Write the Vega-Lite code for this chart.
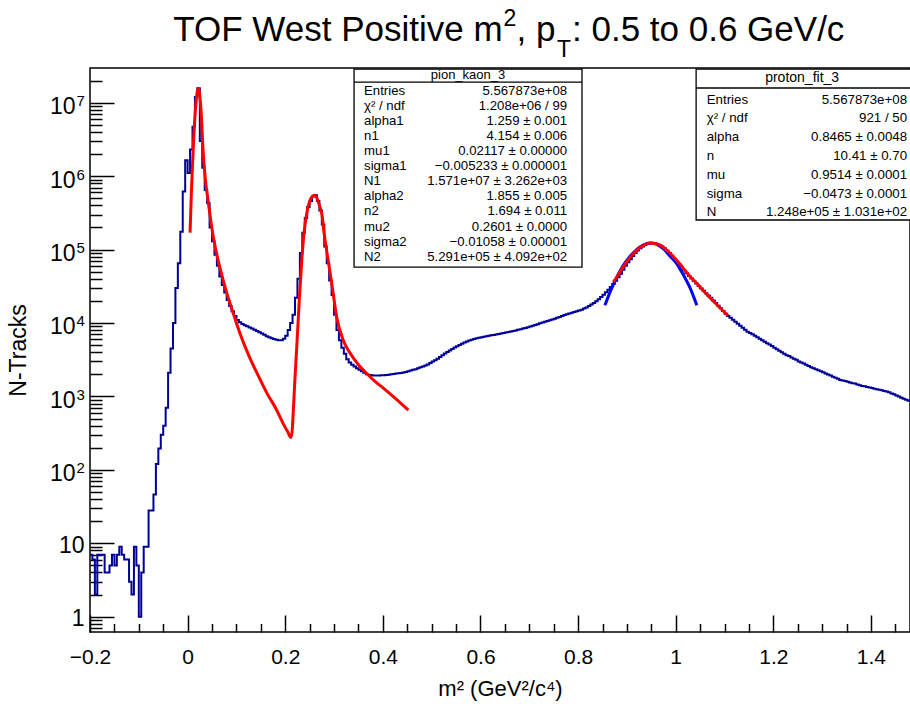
{
  "$schema": "https://vega.github.io/schema/vega-lite/v6.json",
  "width": 820,
  "height": 564,
  "autosize": {"type": "none"},
  "padding": {"left": 90, "top": 68, "right": 0, "bottom": 72},
  "background": "white",
  "config": {
    "font": "Liberation Sans",
    "view": {"stroke": "black", "strokeWidth": 1.5},
    "axis": {"domain": false, "grid": false, "tickColor": "black", "labelColor": "black", "titleColor": "black", "labelFont": "Liberation Sans", "titleFont": "Liberation Sans", "titleFontWeight": "normal"}
  },
  "datasets": {
    "hist": [
      {"x":-0.2,"n":7},{"x":-0.195,"n":6},{"x":-0.19,"n":2},{"x":-0.185,"n":7},{"x":-0.18,"n":7},{"x":-0.175,"n":7},{"x":-0.17,"n":4},{"x":-0.165,"n":4},{"x":-0.16,"n":5},{"x":-0.155,"n":7},
      {"x":-0.15,"n":5},{"x":-0.145,"n":7},{"x":-0.14,"n":9},{"x":-0.135,"n":7},{"x":-0.13,"n":6},{"x":-0.125,"n":6},{"x":-0.12,"n":3},{"x":-0.115,"n":2},{"x":-0.11,"n":9},{"x":-0.105,"n":5},
      {"x":-0.1,"n":1},{"x":-0.095,"n":4},{"x":-0.09,"n":9},{"x":-0.085,"n":9},{"x":-0.08,"n":28},{"x":-0.075,"n":28},{"x":-0.07,"n":46},{"x":-0.065,"n":120},{"x":-0.06,"n":196},{"x":-0.055,"n":300},
      {"x":-0.05,"n":400},{"x":-0.045,"n":700},{"x":-0.04,"n":2100},{"x":-0.035,"n":4500},{"x":-0.03,"n":10000},{"x":-0.025,"n":30000},{"x":-0.02,"n":65000},{"x":-0.015,"n":175000},{"x":-0.01,"n":620000},{"x":-0.005,"n":1650000},
      {"x":0,"n":1100000},{"x":0.005,"n":2300000},{"x":0.01,"n":4700000},{"x":0.015,"n":12000000},{"x":0.02,"n":15700000},{"x":0.025,"n":3000000},{"x":0.03,"n":1300000},{"x":0.035,"n":650000},{"x":0.04,"n":430000},{"x":0.045,"n":200000},
      {"x":0.05,"n":130000},{"x":0.055,"n":85000},{"x":0.06,"n":60000},{"x":0.065,"n":43000},{"x":0.07,"n":33000},{"x":0.075,"n":26000},{"x":0.08,"n":20500},{"x":0.085,"n":17000},{"x":0.09,"n":14500},{"x":0.095,"n":12500},
      {"x":0.1,"n":11000},{"x":0.105,"n":10200},{"x":0.11,"n":9700},{"x":0.115,"n":9300},{"x":0.12,"n":9000},{"x":0.125,"n":8700},{"x":0.13,"n":8400},{"x":0.135,"n":8100},{"x":0.14,"n":7800},{"x":0.145,"n":7500},
      {"x":0.15,"n":7200},{"x":0.155,"n":6900},{"x":0.16,"n":6600},{"x":0.165,"n":6400},{"x":0.17,"n":6200},{"x":0.175,"n":6050},{"x":0.18,"n":5900},{"x":0.185,"n":5800},{"x":0.19,"n":5800},{"x":0.195,"n":6100},
      {"x":0.2,"n":6700},{"x":0.205,"n":8000},{"x":0.21,"n":10000},{"x":0.215,"n":13000},{"x":0.22,"n":22000},{"x":0.225,"n":40000},{"x":0.23,"n":90000},{"x":0.235,"n":170000},{"x":0.24,"n":270000},{"x":0.245,"n":380000},
      {"x":0.25,"n":460000},{"x":0.255,"n":530000},{"x":0.26,"n":550000},{"x":0.265,"n":460000},{"x":0.27,"n":340000},{"x":0.275,"n":220000},{"x":0.28,"n":110000},{"x":0.285,"n":65000},{"x":0.29,"n":38000},{"x":0.295,"n":24000},
      {"x":0.3,"n":13000},{"x":0.305,"n":8000},{"x":0.31,"n":5800},{"x":0.315,"n":4600},{"x":0.32,"n":3800},{"x":0.325,"n":3200},{"x":0.33,"n":2900},{"x":0.335,"n":2700},{"x":0.34,"n":2550},{"x":0.345,"n":2420},
      {"x":0.35,"n":2300},{"x":0.355,"n":2200},{"x":0.36,"n":2100},{"x":0.365,"n":2000},{"x":0.37,"n":1960},{"x":0.375,"n":1940},{"x":0.38,"n":1930},{"x":0.385,"n":1920},{"x":0.39,"n":1930},{"x":0.395,"n":1940},
      {"x":0.4,"n":1950},{"x":0.405,"n":1960},{"x":0.41,"n":1980},{"x":0.415,"n":2000},{"x":0.42,"n":2020},{"x":0.425,"n":2050},{"x":0.43,"n":2070},{"x":0.435,"n":2090},{"x":0.44,"n":2110},{"x":0.445,"n":2150},
      {"x":0.45,"n":2200},{"x":0.455,"n":2250},{"x":0.46,"n":2300},{"x":0.465,"n":2350},{"x":0.47,"n":2420},{"x":0.475,"n":2490},{"x":0.48,"n":2560},{"x":0.485,"n":2640},{"x":0.49,"n":2730},{"x":0.495,"n":2850},
      {"x":0.5,"n":2980},{"x":0.505,"n":3120},{"x":0.51,"n":3270},{"x":0.515,"n":3450},{"x":0.52,"n":3650},{"x":0.525,"n":3850},{"x":0.53,"n":4030},{"x":0.535,"n":4220},{"x":0.54,"n":4420},{"x":0.545,"n":4620},
      {"x":0.55,"n":4820},{"x":0.555,"n":5020},{"x":0.56,"n":5220},{"x":0.565,"n":5420},{"x":0.57,"n":5600},{"x":0.575,"n":5760},{"x":0.58,"n":5910},{"x":0.585,"n":6050},{"x":0.59,"n":6180},{"x":0.595,"n":6290},
      {"x":0.6,"n":6400},{"x":0.605,"n":6500},{"x":0.61,"n":6600},{"x":0.615,"n":6700},{"x":0.62,"n":6790},{"x":0.625,"n":6880},{"x":0.63,"n":6980},{"x":0.635,"n":7080},{"x":0.64,"n":7180},{"x":0.645,"n":7290},
      {"x":0.65,"n":7400},{"x":0.655,"n":7520},{"x":0.66,"n":7650},{"x":0.665,"n":7780},{"x":0.67,"n":7920},{"x":0.675,"n":8070},{"x":0.68,"n":8230},{"x":0.685,"n":8400},{"x":0.69,"n":8580},{"x":0.695,"n":8770},
      {"x":0.7,"n":8970},{"x":0.705,"n":9180},{"x":0.71,"n":9400},{"x":0.715,"n":9650},{"x":0.72,"n":9900},{"x":0.725,"n":10150},{"x":0.73,"n":10400},{"x":0.735,"n":10650},{"x":0.74,"n":10900},{"x":0.745,"n":11150},
      {"x":0.75,"n":11450},{"x":0.755,"n":11750},{"x":0.76,"n":12100},{"x":0.765,"n":12450},{"x":0.77,"n":12800},{"x":0.775,"n":13150},{"x":0.78,"n":13500},{"x":0.785,"n":13800},{"x":0.79,"n":14100},{"x":0.795,"n":14400},
      {"x":0.8,"n":14800},{"x":0.805,"n":15200},{"x":0.81,"n":15700},{"x":0.815,"n":16300},{"x":0.82,"n":17000},{"x":0.825,"n":17800},{"x":0.83,"n":18700},{"x":0.835,"n":19800},{"x":0.84,"n":21100},{"x":0.845,"n":22600},
      {"x":0.85,"n":24300},{"x":0.855,"n":26200},{"x":0.86,"n":28400},{"x":0.865,"n":31000},{"x":0.87,"n":34000},{"x":0.875,"n":37700},{"x":0.88,"n":42000},{"x":0.885,"n":47000},{"x":0.89,"n":53000},{"x":0.895,"n":60000},
      {"x":0.9,"n":67000},{"x":0.905,"n":74000},{"x":0.91,"n":82000},{"x":0.915,"n":90000},{"x":0.92,"n":97000},{"x":0.925,"n":104000},{"x":0.93,"n":110000},{"x":0.935,"n":115000},{"x":0.94,"n":119000},{"x":0.945,"n":122000},
      {"x":0.95,"n":123000},{"x":0.955,"n":122000},{"x":0.96,"n":119000},{"x":0.965,"n":115000},{"x":0.97,"n":110000},{"x":0.975,"n":104000},{"x":0.98,"n":97000},{"x":0.985,"n":90000},{"x":0.99,"n":82500},{"x":0.995,"n":75000},
      {"x":1.0,"n":68000},{"x":1.005,"n":62000},{"x":1.01,"n":57000},{"x":1.015,"n":52000},{"x":1.02,"n":47500},{"x":1.025,"n":43500},{"x":1.03,"n":40300},{"x":1.035,"n":37300},{"x":1.04,"n":34500},{"x":1.045,"n":32000},
      {"x":1.05,"n":29600},{"x":1.055,"n":27400},{"x":1.06,"n":25400},{"x":1.065,"n":23700},{"x":1.07,"n":22000},{"x":1.075,"n":20300},{"x":1.08,"n":18700},{"x":1.085,"n":17200},{"x":1.09,"n":15900},{"x":1.095,"n":14600},
      {"x":1.1,"n":13400},{"x":1.105,"n":12500},{"x":1.11,"n":11800},{"x":1.115,"n":11100},{"x":1.12,"n":10400},{"x":1.125,"n":9800},{"x":1.13,"n":9200},{"x":1.135,"n":8600},{"x":1.14,"n":8100},{"x":1.145,"n":7600},
      {"x":1.15,"n":7300},{"x":1.155,"n":7000},{"x":1.16,"n":6700},{"x":1.165,"n":6400},{"x":1.17,"n":6100},{"x":1.175,"n":5800},{"x":1.18,"n":5550},{"x":1.185,"n":5300},{"x":1.19,"n":5100},{"x":1.195,"n":4850},
      {"x":1.2,"n":4600},{"x":1.205,"n":4400},{"x":1.21,"n":4200},{"x":1.215,"n":4000},{"x":1.22,"n":3800},{"x":1.225,"n":3650},{"x":1.23,"n":3550},{"x":1.235,"n":3400},{"x":1.24,"n":3250},{"x":1.245,"n":3150},
      {"x":1.25,"n":3000},{"x":1.255,"n":2900},{"x":1.26,"n":2800},{"x":1.265,"n":2700},{"x":1.27,"n":2600},{"x":1.275,"n":2500},{"x":1.28,"n":2420},{"x":1.285,"n":2350},{"x":1.29,"n":2280},{"x":1.295,"n":2200},
      {"x":1.3,"n":2130},{"x":1.305,"n":2060},{"x":1.31,"n":1990},{"x":1.315,"n":1920},{"x":1.32,"n":1850},{"x":1.325,"n":1790},{"x":1.33,"n":1740},{"x":1.335,"n":1680},{"x":1.34,"n":1650},{"x":1.345,"n":1620},
      {"x":1.35,"n":1580},{"x":1.355,"n":1550},{"x":1.36,"n":1510},{"x":1.365,"n":1500},{"x":1.37,"n":1450},{"x":1.375,"n":1420},{"x":1.38,"n":1390},{"x":1.385,"n":1380},{"x":1.39,"n":1340},{"x":1.395,"n":1320},
      {"x":1.4,"n":1300},{"x":1.405,"n":1270},{"x":1.41,"n":1250},{"x":1.415,"n":1230},{"x":1.42,"n":1210},{"x":1.425,"n":1190},{"x":1.43,"n":1170},{"x":1.435,"n":1140},{"x":1.44,"n":1100},{"x":1.445,"n":1070},
      {"x":1.45,"n":1030},{"x":1.455,"n":1000},{"x":1.46,"n":960},{"x":1.465,"n":930},{"x":1.47,"n":900},{"x":1.475,"n":870},{"x":1.48,"n":860}
    ],
    "fit_pion": [
      {"x":0.005,"n":170000},{"x":0.0075,"n":550000},{"x":0.01,"n":1400000},{"x":0.0125,"n":3300000},{"x":0.015,"n":6500000},{"x":0.0175,"n":10500000},{"x":0.02,"n":14500000},{"x":0.0212,"n":15700000},{"x":0.0235,"n":14500000},{"x":0.026,"n":10500000},
      {"x":0.0277,"n":7500000},{"x":0.0316,"n":2260000},{"x":0.036,"n":950000},{"x":0.0418,"n":470000},{"x":0.047,"n":260000},{"x":0.052,"n":157000},{"x":0.059,"n":90000},{"x":0.0664,"n":56000},{"x":0.076,"n":32000},{"x":0.0869,"n":18500},
      {"x":0.097,"n":11500},{"x":0.1074,"n":7200},{"x":0.1175,"n":4800},{"x":0.1279,"n":3300},{"x":0.145,"n":1900},{"x":0.1627,"n":1100},{"x":0.18,"n":700},{"x":0.1955,"n":430},{"x":0.205,"n":330},{"x":0.2119,"n":275},
      {"x":0.2145,"n":360},{"x":0.2166,"n":650},{"x":0.22,"n":1800},{"x":0.2236,"n":4700},{"x":0.2285,"n":19000},{"x":0.2338,"n":71000},{"x":0.239,"n":180000},{"x":0.244,"n":310000},{"x":0.2508,"n":470000},{"x":0.2555,"n":530000},
      {"x":0.2601,"n":550000},{"x":0.265,"n":500000},{"x":0.2705,"n":390000},{"x":0.2748,"n":310000},{"x":0.28,"n":160000},{"x":0.288,"n":71000},{"x":0.296,"n":32000},{"x":0.3055,"n":12000},{"x":0.318,"n":6000},{"x":0.3328,"n":3900},
      {"x":0.35,"n":2700},{"x":0.367,"n":2050},{"x":0.384,"n":1600},{"x":0.401,"n":1300},{"x":0.425,"n":950},{"x":0.4523,"n":650}
    ],
    "fit_proton_red": [
      {"x":0.872,"n":36000},{"x":0.878,"n":41000},{"x":0.886,"n":50000},{"x":0.896,"n":63000},{"x":0.9066,"n":78000},{"x":0.917,"n":93000},{"x":0.927,"n":107000},{"x":0.937,"n":117000},{"x":0.9475,"n":123000},{"x":0.958,"n":121000},
      {"x":0.968,"n":115000},{"x":0.978,"n":103000},{"x":0.9885,"n":89000},{"x":0.999,"n":75000},{"x":1.009,"n":63000},{"x":1.019,"n":52000},{"x":1.0295,"n":43000},{"x":1.04,"n":36500},{"x":1.05,"n":31000},{"x":1.06,"n":26000},
      {"x":1.0705,"n":22000},{"x":1.081,"n":18700},{"x":1.091,"n":16000},{"x":1.1074,"n":12600}
    ],
    "fit_proton_blue": [
      {"x":0.855,"n":17400},{"x":0.866,"n":27000},{"x":0.8793,"n":42000},{"x":0.892,"n":60000},{"x":0.9066,"n":81000},{"x":0.92,"n":100000},{"x":0.934,"n":116000},{"x":0.9475,"n":123000},{"x":0.961,"n":118000},{"x":0.975,"n":102000},
      {"x":0.988,"n":82000},{"x":1.0023,"n":64000},{"x":1.015,"n":46000},{"x":1.0294,"n":30000},{"x":1.0432,"n":17400}
    ],
    "boxes": [
      {"box":"pion","head":"pion_kaon_3",
       "names":["Entries","χ² / ndf","alpha1","n1","mu1","sigma1","N1","alpha2","n2","mu2","sigma2","N2"],
       "vals":["5.567873e+08","1.208e+06 / 99","1.259 ± 0.001","4.154 ± 0.006","0.02117 ± 0.00000","−0.005233 ± 0.000001","1.571e+07 ± 3.262e+03","1.855 ± 0.005","1.694 ± 0.011","0.2601 ± 0.0000","−0.01058 ± 0.00001","5.291e+05 ± 4.092e+02"]},
      {"box":"proton","head":"proton_fit_3",
       "names":["Entries","χ² / ndf","alpha","n","mu","sigma","N"],
       "vals":["5.567873e+08","921 / 50","0.8465 ± 0.0048","10.41 ± 0.70","0.9514 ± 0.0001","−0.0473 ± 0.0001","1.248e+05 ± 1.031e+02"]}
    ],
    "titles": [
      {"part":"a","t":"TOF West Positive m"},
      {"part":"sup","t":"2"},
      {"part":"a2","t":", p"},
      {"part":"b","t":"T"},
      {"part":"c","t":": 0.5 to 0.6 GeV/c"}
    ]
  },
  "resolve": {"axis": {"x": "independent", "y": "independent"}},
  "layer": [
    {
      "data": {"name": "hist"},
      "mark": {"type": "line", "interpolate": "step-after", "color": "#000099", "strokeWidth": 2, "clip": true},
      "encoding": {
        "x": {"field": "x", "type": "quantitative", "scale": {"domain": [-0.2, 1.48], "nice": false, "zero": false},
              "axis": {"orient": "bottom", "values": [-0.2, 0, 0.2, 0.4, 0.6, 0.8, 1, 1.2, 1.4], "format": "~g", "tickSize": -17, "tickWidth": 1.5, "labelPadding": 31, "labelFontSize": 21, "labelFlush": false, "labelOverlap": false, "title": "m² (GeV²/c⁴)", "titleFontSize": 22, "titlePadding": 11}},
        "y": {"field": "n", "type": "quantitative", "scale": {"type": "log", "domain": [0.619, 29700000], "nice": false},
              "axis": {"orient": "left", "values": [1, 10, 100, 1000, 10000, 100000, 1000000, 10000000], "labelExpr": "datum.value < 5 ? '1' : datum.value < 50 ? '10' : ''", "tickSize": -24, "tickWidth": 1.5, "labelPadding": 30, "labelOffset": 2, "labelFontSize": 23, "labelFlush": false, "labelOverlap": false, "title": "N-Tracks", "titleFontSize": 23, "titlePadding": 28}}
      }
    },
    {
      "data": {"name": "fit_proton_blue"},
      "mark": {"type": "line", "interpolate": "monotone", "color": "#0000ff", "strokeWidth": 3},
      "encoding": {
        "x": {"field": "x", "type": "quantitative", "scale": {"domain": [-0.2, 1.48], "nice": false, "zero": false}, "axis": null},
        "y": {"field": "n", "type": "quantitative", "scale": {"type": "log", "domain": [0.619, 29700000], "nice": false},
              "axis": {"orient": "left", "values": [100, 1000, 10000, 100000, 1000000, 10000000], "labelExpr": "'' + round(log(datum.value) / LN10)", "ticks": false, "labelPadding": 14, "labelAlign": "left", "labelOffset": -2, "labelFontSize": 15, "labelFlush": false, "labelOverlap": false, "title": null}}
      }
    },
    {
      "data": {"name": "fit_proton_red"},
      "mark": {"type": "line", "interpolate": "monotone", "color": "#ff0000", "strokeWidth": 3},
      "encoding": {
        "x": {"field": "x", "type": "quantitative", "scale": {"domain": [-0.2, 1.48], "nice": false, "zero": false}, "axis": null},
        "y": {"field": "n", "type": "quantitative", "scale": {"type": "log", "domain": [0.619, 29700000], "nice": false},
              "axis": {"orient": "left", "values": [100, 1000, 10000, 100000, 1000000, 10000000], "labelExpr": "'10'", "ticks": false, "labelPadding": 15, "labelOffset": 4, "labelFontSize": 23, "labelFlush": false, "labelOverlap": false, "title": null}}
      }
    },
    {
      "data": {"name": "fit_pion"},
      "mark": {"type": "line", "interpolate": "monotone", "color": "#ff0000", "strokeWidth": 3},
      "encoding": {
        "x": {"field": "x", "type": "quantitative", "scale": {"domain": [-0.2, 1.48], "nice": false, "zero": false},
              "axis": {"orient": "bottom", "values": [-0.15, -0.1, -0.05, 0.05, 0.1, 0.15, 0.25, 0.3, 0.35, 0.45, 0.5, 0.55, 0.65, 0.7, 0.75, 0.85, 0.9, 0.95, 1.05, 1.1, 1.15, 1.25, 1.3, 1.35, 1.45], "tickSize": -8.5, "tickWidth": 1.5, "labels": false, "title": null}},
        "y": {"field": "n", "type": "quantitative", "scale": {"type": "log", "domain": [0.619, 29700000], "nice": false},
              "axis": {"orient": "left", "values": [0.7, 0.8, 0.9, 2, 3, 4, 5, 6, 7, 8, 9, 20, 30, 40, 50, 60, 70, 80, 90, 200, 300, 400, 500, 600, 700, 800, 900, 2000, 3000, 4000, 5000, 6000, 7000, 8000, 9000, 20000, 30000, 40000, 50000, 60000, 70000, 80000, 90000, 200000, 300000, 400000, 500000, 600000, 700000, 800000, 900000, 2000000, 3000000, 4000000, 5000000, 6000000, 7000000, 8000000, 9000000, 20000000], "tickSize": -12, "tickWidth": 1.5, "labels": false, "title": null}}
      }
    },
    {
      "data": {"name": "boxes"},
      "transform": [{"filter": "datum.box == 'pion'"}],
      "mark": {"type": "rect", "fill": "white", "stroke": "black", "strokeWidth": 1.3},
      "encoding": {
        "x": {"datum": 0.341, "type": "quantitative", "scale": {"domain": [-0.2, 1.48], "nice": false, "zero": false}, "axis": null},
        "x2": {"datum": 0.808},
        "y": {"datum": 28700000, "type": "quantitative", "scale": {"type": "log", "domain": [0.619, 29700000], "nice": false}, "axis": null},
        "y2": {"datum": 57800}
      }
    },
    {
      "data": {"name": "boxes"},
      "transform": [{"filter": "datum.box == 'pion'"}],
      "mark": {"type": "rule", "color": "black", "strokeWidth": 1.3},
      "encoding": {
        "x": {"datum": 0.341, "type": "quantitative", "scale": {"domain": [-0.2, 1.48], "nice": false, "zero": false}, "axis": null},
        "x2": {"datum": 0.808},
        "y": {"datum": 19130000, "type": "quantitative", "scale": {"type": "log", "domain": [0.619, 29700000], "nice": false}, "axis": null}
      }
    },
    {
      "data": {"name": "boxes"},
      "transform": [{"filter": "datum.box == 'pion'"}],
      "mark": {"type": "text", "align": "center", "baseline": "middle", "fontSize": 13, "color": "black"},
      "encoding": {
        "x": {"datum": 0.5745, "type": "quantitative", "scale": {"domain": [-0.2, 1.48], "nice": false, "zero": false}, "axis": null},
        "y": {"datum": 23820000, "type": "quantitative", "scale": {"type": "log", "domain": [0.619, 29700000], "nice": false}, "axis": null},
        "text": {"field": "head", "type": "nominal"}
      }
    },
    {
      "data": {"name": "boxes"},
      "transform": [{"filter": "datum.box == 'pion'"}],
      "mark": {"type": "text", "align": "left", "baseline": "top", "fontSize": 13.2, "lineHeight": 15.1, "color": "black"},
      "encoding": {
        "x": {"datum": 0.3615, "type": "quantitative", "scale": {"domain": [-0.2, 1.48], "nice": false, "zero": false}, "axis": null},
        "y": {"datum": 17600000, "type": "quantitative", "scale": {"type": "log", "domain": [0.619, 29700000], "nice": false}, "axis": null},
        "text": {"field": "names", "type": "nominal"}
      }
    },
    {
      "data": {"name": "boxes"},
      "transform": [{"filter": "datum.box == 'pion'"}],
      "mark": {"type": "text", "align": "right", "baseline": "top", "fontSize": 13.2, "lineHeight": 15.1, "color": "black"},
      "encoding": {
        "x": {"datum": 0.7775, "type": "quantitative", "scale": {"domain": [-0.2, 1.48], "nice": false, "zero": false}, "axis": null},
        "y": {"datum": 17600000, "type": "quantitative", "scale": {"type": "log", "domain": [0.619, 29700000], "nice": false}, "axis": null},
        "text": {"field": "vals", "type": "nominal"}
      }
    },
    {
      "data": {"name": "boxes"},
      "transform": [{"filter": "datum.box == 'proton'"}],
      "mark": {"type": "rect", "fill": "white", "stroke": "black", "strokeWidth": 1.3},
      "encoding": {
        "x": {"datum": 1.0418, "type": "quantitative", "scale": {"domain": [-0.2, 1.48], "nice": false, "zero": false}, "axis": null},
        "x2": {"datum": 1.6},
        "y": {"datum": 28700000, "type": "quantitative", "scale": {"type": "log", "domain": [0.619, 29700000], "nice": false}, "axis": null},
        "y2": {"datum": 252700}
      }
    },
    {
      "data": {"name": "boxes"},
      "transform": [{"filter": "datum.box == 'proton'"}],
      "mark": {"type": "rule", "color": "black", "strokeWidth": 1.3},
      "encoding": {
        "x": {"datum": 1.0418, "type": "quantitative", "scale": {"domain": [-0.2, 1.48], "nice": false, "zero": false}, "axis": null},
        "x2": {"datum": 1.6},
        "y": {"datum": 15860000, "type": "quantitative", "scale": {"type": "log", "domain": [0.619, 29700000], "nice": false}, "axis": null}
      }
    },
    {
      "data": {"name": "boxes"},
      "transform": [{"filter": "datum.box == 'proton'"}],
      "mark": {"type": "text", "align": "center", "baseline": "middle", "fontSize": 14, "color": "black"},
      "encoding": {
        "x": {"datum": 1.259, "type": "quantitative", "scale": {"domain": [-0.2, 1.48], "nice": false, "zero": false}, "axis": null},
        "y": {"datum": 22030000, "type": "quantitative", "scale": {"type": "log", "domain": [0.619, 29700000], "nice": false}, "axis": null},
        "text": {"field": "head", "type": "nominal"}
      }
    },
    {
      "data": {"name": "boxes"},
      "transform": [{"filter": "datum.box == 'proton'"}],
      "mark": {"type": "text", "align": "left", "baseline": "top", "fontSize": 13.3, "lineHeight": 18.8, "color": "black"},
      "encoding": {
        "x": {"datum": 1.0635, "type": "quantitative", "scale": {"domain": [-0.2, 1.48], "nice": false, "zero": false}, "axis": null},
        "y": {"datum": 13730000, "type": "quantitative", "scale": {"type": "log", "domain": [0.619, 29700000], "nice": false}, "axis": null},
        "text": {"field": "names", "type": "nominal"}
      }
    },
    {
      "data": {"name": "boxes"},
      "transform": [{"filter": "datum.box == 'proton'"}],
      "mark": {"type": "text", "align": "right", "baseline": "top", "fontSize": 13.3, "lineHeight": 18.8, "color": "black"},
      "encoding": {
        "x": {"datum": 1.474, "type": "quantitative", "scale": {"domain": [-0.2, 1.48], "nice": false, "zero": false}, "axis": null},
        "y": {"datum": 13730000, "type": "quantitative", "scale": {"type": "log", "domain": [0.619, 29700000], "nice": false}, "axis": null},
        "text": {"field": "vals", "type": "nominal"}
      }
    },
    {
      "data": {"name": "titles"},
      "transform": [{"filter": "datum.part == 'a'"}],
      "mark": {"type": "text", "align": "right", "baseline": "alphabetic", "fontSize": 35, "color": "black"},
      "encoding": {
        "x": {"datum": 0.6453, "type": "quantitative", "scale": {"domain": [-0.2, 1.48], "nice": false, "zero": false}, "axis": null},
        "y": {"datum": 69200000, "type": "quantitative", "scale": {"type": "log", "domain": [0.619, 29700000], "nice": false}, "axis": null},
        "text": {"field": "t", "type": "nominal"}
      }
    },
    {
      "data": {"name": "titles"},
      "transform": [{"filter": "datum.part == 'sup'"}],
      "mark": {"type": "text", "align": "left", "baseline": "alphabetic", "fontSize": 23, "color": "black"},
      "encoding": {
        "x": {"datum": 0.6472, "type": "quantitative", "scale": {"domain": [-0.2, 1.48], "nice": false, "zero": false}, "axis": null},
        "y": {"datum": 110800000, "type": "quantitative", "scale": {"type": "log", "domain": [0.619, 29700000], "nice": false}, "axis": null},
        "text": {"field": "t", "type": "nominal"}
      }
    },
    {
      "data": {"name": "titles"},
      "transform": [{"filter": "datum.part == 'a2'"}],
      "mark": {"type": "text", "align": "left", "baseline": "alphabetic", "fontSize": 35, "color": "black"},
      "encoding": {
        "x": {"datum": 0.6738, "type": "quantitative", "scale": {"domain": [-0.2, 1.48], "nice": false, "zero": false}, "axis": null},
        "y": {"datum": 69200000, "type": "quantitative", "scale": {"type": "log", "domain": [0.619, 29700000], "nice": false}, "axis": null},
        "text": {"field": "t", "type": "nominal"}
      }
    },
    {
      "data": {"name": "titles"},
      "transform": [{"filter": "datum.part == 'b'"}],
      "mark": {"type": "text", "align": "left", "baseline": "alphabetic", "fontSize": 23, "color": "black"},
      "encoding": {
        "x": {"datum": 0.7568, "type": "quantitative", "scale": {"domain": [-0.2, 1.48], "nice": false, "zero": false}, "axis": null},
        "y": {"datum": 41900000, "type": "quantitative", "scale": {"type": "log", "domain": [0.619, 29700000], "nice": false}, "axis": null},
        "text": {"field": "t", "type": "nominal"}
      }
    },
    {
      "data": {"name": "titles"},
      "transform": [{"filter": "datum.part == 'c'"}],
      "mark": {"type": "text", "align": "left", "baseline": "alphabetic", "fontSize": 35, "color": "black"},
      "encoding": {
        "x": {"datum": 0.7875, "type": "quantitative", "scale": {"domain": [-0.2, 1.48], "nice": false, "zero": false}, "axis": null},
        "y": {"datum": 69200000, "type": "quantitative", "scale": {"type": "log", "domain": [0.619, 29700000], "nice": false}, "axis": null},
        "text": {"field": "t", "type": "nominal"}
      }
    }
  ]
}
